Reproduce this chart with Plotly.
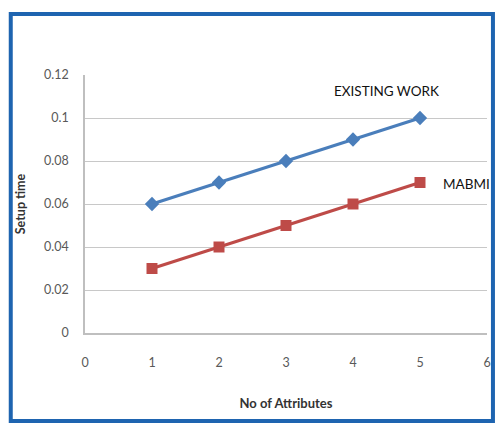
import plotly.graph_objects as go

attributes = [1, 2, 3, 4, 5]
existing_work = [0.06, 0.07, 0.08, 0.09, 0.10]
mabmi = [0.03, 0.04, 0.05, 0.06, 0.07]

x_ticks = [0, 1, 2, 3, 4, 5, 6]
y_ticks = [0, 0.02, 0.04, 0.06, 0.08, 0.1, 0.12]
y_tick_text = ["0", "0.02", "0.04", "0.06", "0.08", "0.1", "0.12"]

blue = "#4A7EBB"
red = "#BE4B48"

fig = go.Figure()
fig.add_trace(go.Scatter(
    x=attributes, y=existing_work, mode="lines+markers", name="EXISTING WORK",
    line=dict(color=blue, width=3),
    marker=dict(symbol="diamond", size=11, color=blue),
))
fig.add_trace(go.Scatter(
    x=attributes, y=mabmi, mode="lines+markers", name="MABMI",
    line=dict(color=red, width=3),
    marker=dict(symbol="square", size=11, color=red),
))

label_font = dict(family="Lato", size=13.5, color="#111111")
fig.add_annotation(x=4.5, y=0.1126, text="EXISTING WORK", showarrow=False, font=label_font)
fig.add_annotation(x=5.7, y=0.0693, text="MABMI", showarrow=False, font=label_font)

# outer frame around the whole chart
fig.add_shape(type="rect", xref="paper", yref="paper",
              x0=-0.1847, x1=1.0148, y0=-0.341, y1=1.2364,
              line=dict(color="#1E64B0", width=4), layer="below")

axis_font = dict(family="Lato", size=12.5, color="#595959")
fig.update_layout(
    width=501, height=425,
    margin=dict(l=85, r=10, t=75, b=92),
    paper_bgcolor="white", plot_bgcolor="white",
    showlegend=False,
    xaxis=dict(
        range=[0, 6], tickvals=x_ticks, tickfont=axis_font,
        showgrid=False, zeroline=False, showline=True,
        linecolor="#BFBFBF", linewidth=1.5, ticks="", ticklabelstandoff=17,
        title=dict(text="<b>No of Attributes</b>",
                   font=dict(family="Lato", size=13, color="#333333"), standoff=30),
    ),
    yaxis=dict(
        range=[0, 0.12], tickvals=y_ticks, ticktext=y_tick_text, tickfont=axis_font,
        showgrid=True, gridcolor="#C8C8C8", gridwidth=1.2, zeroline=False,
        showline=True, linecolor="#BFBFBF", linewidth=1.5, ticks="", ticklabelstandoff=12,
        title=dict(text="<b>Setup time</b>",
                   font=dict(family="Lato", size=12.5, color="#333333"), standoff=16),
    ),
)

fig.write_html("out.html")
